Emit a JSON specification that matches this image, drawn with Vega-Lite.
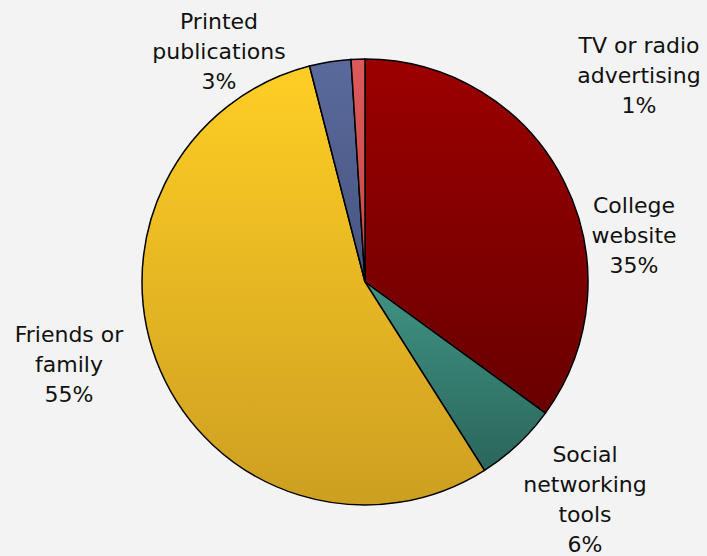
{
  "$schema": "https://vega.github.io/schema/vega-lite/v6.json",
  "width": 684,
  "height": 548,
  "autosize": "none",
  "padding": {"left": 23, "top": 8, "right": 0, "bottom": 0},
  "background": "#f3f3f3",
  "view": {"stroke": null},
  "config": {"text": {"font": "DejaVu Sans", "fontSize": 22, "lineHeight": 30, "color": "#111111"}},
  "data": {"values": [
    {"source": "College website", "label": "College\nwebsite", "pct": 35, "rank": 1},
    {"source": "Social networking tools", "label": "Social\nnetworking\ntools", "pct": 6, "rank": 2},
    {"source": "Friends or family", "label": "Friends or\nfamily", "pct": 55, "rank": 3},
    {"source": "Printed publications", "label": "Printed\npublications", "pct": 3, "rank": 4},
    {"source": "TV or radio advertising", "label": "TV or radio\nadvertising", "pct": 1, "rank": 5}
  ]},
  "transform": [
    {"stack": "pct", "groupby": [], "sort": [{"field": "rank", "order": "ascending"}], "as": ["v0", "v1"]},
    {"calculate": "datum.label + '\\n' + datum.pct + '%'", "as": "txt"}
  ],
  "layer": [
    {
      "transform": [{"filter": "datum.rank == 1"}],
      "mark": {"type": "arc", "outerRadius": 223, "stroke": "#000000", "strokeWidth": 1.5,
        "fill": {"gradient": "linear", "x1": 0, "y1": 0, "x2": 0, "y2": 1, "stops": [{"offset": 0, "color": "#9c0000"}, {"offset": 1, "color": "#680000"}]}},
      "encoding": {"theta": {"field": "v0", "type": "quantitative", "scale": {"domain": [0, 100]}}, "theta2": {"field": "v1"}}
    },
    {
      "transform": [{"filter": "datum.rank == 2"}],
      "mark": {"type": "arc", "outerRadius": 223, "stroke": "#000000", "strokeWidth": 1.5,
        "fill": {"gradient": "linear", "x1": 0, "y1": 0, "x2": 0, "y2": 1, "stops": [{"offset": 0, "color": "#409383"}, {"offset": 1, "color": "#2a665b"}]}},
      "encoding": {"theta": {"field": "v0", "type": "quantitative", "scale": {"domain": [0, 100]}}, "theta2": {"field": "v1"}}
    },
    {
      "transform": [{"filter": "datum.rank == 3"}],
      "mark": {"type": "arc", "outerRadius": 223, "stroke": "#000000", "strokeWidth": 1.5,
        "fill": {"gradient": "linear", "x1": 0, "y1": 0, "x2": 0, "y2": 1, "stops": [{"offset": 0, "color": "#ffce25"}, {"offset": 1, "color": "#cd9f21"}]}},
      "encoding": {"theta": {"field": "v0", "type": "quantitative", "scale": {"domain": [0, 100]}}, "theta2": {"field": "v1"}}
    },
    {
      "transform": [{"filter": "datum.rank == 4"}],
      "mark": {"type": "arc", "outerRadius": 223, "stroke": "#000000", "strokeWidth": 1.5,
        "fill": {"gradient": "linear", "x1": 0, "y1": 0, "x2": 0, "y2": 1, "stops": [{"offset": 0, "color": "#5a6a9c"}, {"offset": 1, "color": "#46557f"}]}},
      "encoding": {"theta": {"field": "v0", "type": "quantitative", "scale": {"domain": [0, 100]}}, "theta2": {"field": "v1"}}
    },
    {
      "transform": [{"filter": "datum.rank == 5"}],
      "mark": {"type": "arc", "outerRadius": 223, "stroke": "#000000", "strokeWidth": 1.5,
        "fill": {"gradient": "linear", "x1": 0, "y1": 0, "x2": 0, "y2": 1, "stops": [{"offset": 0, "color": "#dc5a5b"}, {"offset": 1, "color": "#c84848"}]}},
      "encoding": {"theta": {"field": "v0", "type": "quantitative", "scale": {"domain": [0, 100]}}, "theta2": {"field": "v1"}}
    },
    {
      "transform": [{"filter": "datum.rank == 1"}],
      "mark": {"type": "text", "radius": 0, "dx": 269, "dy": -76, "align": "center", "baseline": "middle", "lineBreak": "\n"},
      "encoding": {"theta": {"field": "v0", "type": "quantitative", "scale": {"domain": [0, 100]}}, "text": {"field": "txt"}}
    },
    {
      "transform": [{"filter": "datum.rank == 2"}],
      "mark": {"type": "text", "radius": 0, "dx": 220, "dy": 173, "align": "center", "baseline": "middle", "lineBreak": "\n"},
      "encoding": {"theta": {"field": "v0", "type": "quantitative", "scale": {"domain": [0, 100]}}, "text": {"field": "txt"}}
    },
    {
      "transform": [{"filter": "datum.rank == 3"}],
      "mark": {"type": "text", "radius": 0, "dx": -296, "dy": 53, "align": "center", "baseline": "middle", "lineBreak": "\n"},
      "encoding": {"theta": {"field": "v0", "type": "quantitative", "scale": {"domain": [0, 100]}}, "text": {"field": "txt"}}
    },
    {
      "transform": [{"filter": "datum.rank == 4"}],
      "mark": {"type": "text", "radius": 0, "dx": -146, "dy": -260, "align": "center", "baseline": "middle", "lineBreak": "\n"},
      "encoding": {"theta": {"field": "v0", "type": "quantitative", "scale": {"domain": [0, 100]}}, "text": {"field": "txt"}}
    },
    {
      "transform": [{"filter": "datum.rank == 5"}],
      "mark": {"type": "text", "radius": 0, "dx": 274, "dy": -236, "align": "center", "baseline": "middle", "lineBreak": "\n"},
      "encoding": {"theta": {"field": "v0", "type": "quantitative", "scale": {"domain": [0, 100]}}, "text": {"field": "txt"}}
    }
  ]
}
